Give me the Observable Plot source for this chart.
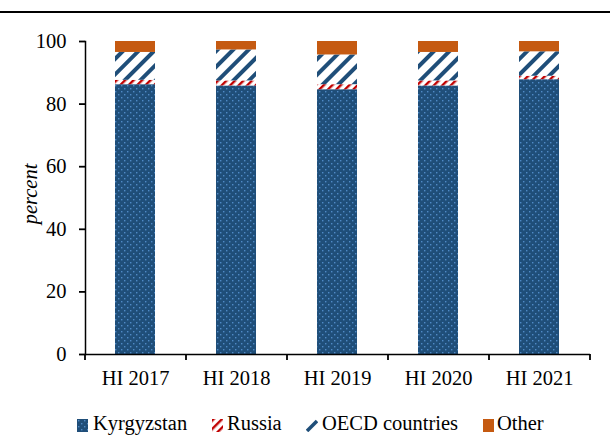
<!DOCTYPE html>
<html>
<head>
<meta charset="utf-8">
<script src="https://cdn.jsdelivr.net/npm/d3@7"></script>
<script src="https://cdn.jsdelivr.net/npm/@observablehq/plot@0.6"></script>
<style>
  body { margin: 0; background: #fff; font-family: "Liberation Serif", "Times New Roman", serif; }
  #wrap { position: relative; width: 610px; height: 436px; overflow: hidden; }
  #topline { position: absolute; left: 0; top: 11px; width: 610px; height: 2px; background: #000; }
  #chart { position: absolute; left: 0; top: 0; }
  .leg { position: absolute; top: 413px; left: 0; font-size: 20.5px; color: #000; white-space: nowrap; line-height: 20px; }
  .leg svg { position: absolute; top: 6px; }
  .leg span { position: absolute; top: 0; }
</style>
</head>
<body>
<div id="wrap">
  <div id="chart"></div>
  <div id="topline"></div>
  <div id="legend"></div>
</div>
<script>
const periods = ["HI 2017", "HI 2018", "HI 2019", "HI 2020", "HI 2021"];
const series = ["Kyrgyzstan", "Russia", "OECD countries", "Other"];
const kyrgyzstan = [86.2, 85.8, 84.6, 85.8, 87.8];
const russia = [1.4, 1.6, 1.6, 1.6, 1.1];
const oecd = [8.9, 9.9, 9.5, 9.1, 7.8];
const other = [3.5, 2.7, 4.3, 3.5, 3.3];
const yTicks = [0, 20, 40, 60, 80, 100];
const fills = ["url(#pKyr)", "url(#pRus)", "url(#pOecd)", "url(#pOther)"];

const valuesBySeries = [kyrgyzstan, russia, oecd, other];
const rows = [];
periods.forEach((p, i) => {
  series.forEach((s, j) => rows.push({period: p, series: s, value: valuesBySeries[j][i]}));
});

const font = '"Liberation Serif", "Times New Roman", serif';

const plot = Plot.plot({
  width: 610,
  height: 400,
  marginTop: 41,
  marginBottom: 46,
  marginLeft: 85,
  marginRight: 20,
  style: {fontFamily: font, fontSize: "20.5px", color: "#000", background: "transparent"},
  x: {domain: periods, paddingInner: 0.6, paddingOuter: 0.3, label: null},
  y: {domain: [0, 100], label: null},
  color: {domain: series, range: fills},
  marks: [
    Plot.barY(rows, {x: "period", y: "value", fill: "series"}),
    Plot.axisY({ticks: yTicks, tickSize: 6, tickPadding: 13, stroke: "#000", strokeWidth: 1.8, label: null}),
    Plot.axisX({tickSize: 0, tickPadding: 16, label: null}),
    Plot.frame({anchor: "left", stroke: "#000", strokeWidth: 1.5}),
    Plot.ruleY([0], {stroke: "#000", strokeWidth: 1.5}),
    Plot.ruleX(periods, {x: d => d, y1: 0, y2: -1.9, dx: -50.5, stroke: "#000", strokeWidth: 1.8}),
    Plot.ruleX(periods.slice(-1), {x: d => d, y1: 0, y2: -1.9, dx: 50.5, stroke: "#000", strokeWidth: 1.8}),
    Plot.text(["percent"], {frameAnchor: "left", textAnchor: "middle", dx: -55, dy: -4, rotate: -90, text: d => d, fontStyle: "italic", fontSize: 20.5})
  ]
});

function addDefs(svgSel) {
  const defs = svgSel.insert("defs", ":first-child");
  const k = defs.append("pattern").attr("id", "pKyr").attr("patternUnits", "userSpaceOnUse").attr("width", 6).attr("height", 6);
  k.append("rect").attr("width", 6).attr("height", 6).attr("fill", "#1f4e79");
  k.append("rect").attr("x", 1).attr("y", 1).attr("width", 1.4).attr("height", 1.4).attr("fill", "#4f8ac6");
  k.append("rect").attr("x", 4).attr("y", 4).attr("width", 1.4).attr("height", 1.4).attr("fill", "#4f8ac6");
  const r = defs.append("pattern").attr("id", "pRus").attr("patternUnits", "userSpaceOnUse").attr("width", 6).attr("height", 6).attr("patternTransform", "rotate(45)");
  r.append("rect").attr("width", 6).attr("height", 6).attr("fill", "#fff");
  r.append("rect").attr("x", 0).attr("y", 0).attr("width", 2.4).attr("height", 6).attr("fill", "#c00000");
  const o = defs.append("pattern").attr("id", "pOecd").attr("patternUnits", "userSpaceOnUse").attr("width", 11).attr("height", 11).attr("patternTransform", "rotate(45)");
  o.append("rect").attr("width", 11).attr("height", 11).attr("fill", "#fff");
  o.append("rect").attr("x", 0).attr("y", 0).attr("width", 4).attr("height", 11).attr("fill", "#1f4e79");
  const t = defs.append("pattern").attr("id", "pOther").attr("patternUnits", "userSpaceOnUse").attr("width", 6).attr("height", 6);
  t.append("rect").attr("width", 6).attr("height", 6).attr("fill", "#c55a11");
}

const svg = d3.select(plot);
addDefs(svg);
document.getElementById("chart").append(plot);

// legend
const legendPos = [
  {sw: 77, tx: 93},
  {sw: 212, tx: 227},
  {sw: 306, tx: 322},
  {sw: 483, tx: 497}
];
const legend = document.getElementById("legend");
series.forEach((s, i) => {
  const item = document.createElement("div");
  item.className = "leg";
  const sw = d3.create("svg").attr("width", 12).attr("height", 13).style("left", legendPos[i].sw + "px");
  if (i === 2) {
    sw.append("line").attr("x1", 1).attr("y1", 12).attr("x2", 11).attr("y2", 2).attr("stroke", "#1f4e79").attr("stroke-width", 3.5);
  } else {
    sw.append("rect").attr("width", 11).attr("height", 13).attr("fill", fills[i]);
  }
  item.append(sw.node());
  const span = document.createElement("span");
  span.textContent = s;
  span.style.left = legendPos[i].tx + "px";
  item.append(span);
  legend.append(item);
});
</script>
</body>
</html>
